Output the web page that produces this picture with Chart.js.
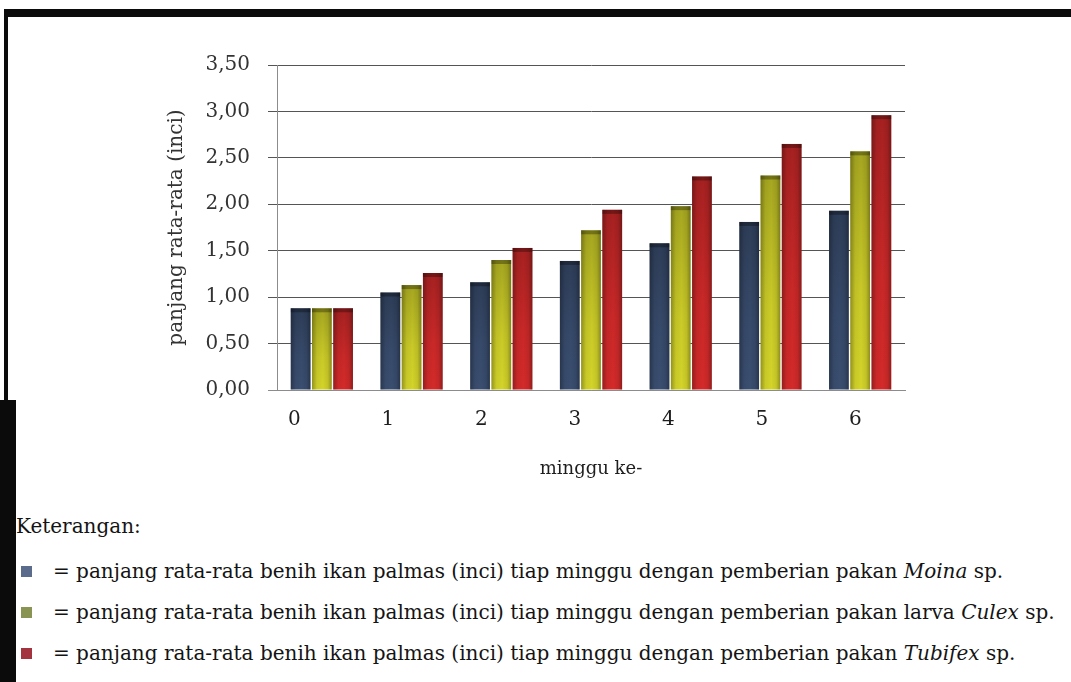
<!DOCTYPE html>
<html>
<head>
<meta charset="utf-8">
<script src="https://cdn.jsdelivr.net/npm/chart.js@4.4.1/dist/chart.umd.min.js"></script>
<style>
  html, body { margin: 0; padding: 0; background: #fff; width: 1071px; height: 682px; overflow: hidden; }
  #wrap { position: absolute; left: 0; top: 0; width: 1071px; height: 500px; }
  .frame { position: absolute; background: #0b0b0b; }
  #keterangan { position: absolute; left: 16px; top: 514px; font: 20px "DejaVu Serif", serif; color: #141414; white-space: nowrap; }
  .row { position: absolute; left: 21px; font: 20px "DejaVu Serif", serif; color: #141414; white-space: nowrap; }
  .row .sq { position: absolute; left: 0; top: 7px; width: 11px; height: 11px; }
  .row .txt { position: absolute; left: 32px; top: 0; }
</style>
</head>
<body>
<div id="wrap"><canvas id="chart" width="1071" height="500"></canvas></div>
<div class="frame" style="left:4px;top:9px;width:1067px;height:8px;"></div>
<div class="frame" style="left:4px;top:9px;width:4px;height:392px;"></div>
<div class="frame" style="left:0;top:400px;width:16px;height:282px;"></div>
<div id="keterangan">Keterangan:</div>
<div id="legend"></div>

<script>
// Weeks (x categories)
const weeks = ['0', '1', '2', '3', '4', '5', '6'];

// Mean length (inch) per week for each feed
const moina   = [0.88, 1.05, 1.16, 1.39, 1.58, 1.81, 1.93];
const culex   = [0.88, 1.13, 1.40, 1.72, 1.98, 2.31, 2.57];
const tubifex = [0.88, 1.26, 1.53, 1.94, 2.30, 2.65, 2.96];

// Feed names shown in the key (italic part + prefix)
const feedPrefix = ['', 'larva ', ''];
const feedNames  = ['Moina', 'Culex', 'Tubifex'];

// Colours
const barColors    = ['#3a4e70', '#d4d42a', '#d42a2a'];
const legendColors = ['#5b6b8b', '#8a9452', '#a3343f'];

const serif = '"DejaVu Serif", serif';

// Shade every bar: darker edges, darker top cap, fading top-to-bottom
const barShade = {
  id: 'barShade',
  afterDatasetDraw(chart, args) {
    const ctx = chart.ctx;
    const meta = args.meta;
    meta.data.forEach(bar => {
      const { x, y, base, width } = bar.getProps(['x', 'y', 'base', 'width'], true);
      const l = x - width / 2, h = base - y;
      ctx.save();
      let g = ctx.createLinearGradient(l, 0, l + width, 0);
      g.addColorStop(0, 'rgba(0,0,0,0.30)');
      g.addColorStop(0.25, 'rgba(0,0,0,0.05)');
      g.addColorStop(0.55, 'rgba(0,0,0,0)');
      g.addColorStop(0.8, 'rgba(0,0,0,0.08)');
      g.addColorStop(1, 'rgba(0,0,0,0.32)');
      ctx.fillStyle = g;
      ctx.fillRect(l, y, width, h);
      g = ctx.createLinearGradient(0, y, 0, base);
      g.addColorStop(0, 'rgba(0,0,0,0.22)');
      g.addColorStop(0.6, 'rgba(0,0,0,0.05)');
      g.addColorStop(1, 'rgba(0,0,0,0)');
      ctx.fillStyle = g;
      ctx.fillRect(l, y, width, h);
      ctx.fillStyle = 'rgba(0,0,0,0.30)';
      ctx.fillRect(l, y, width, 4);
      ctx.restore();
    });
  }
};

const series = [moina, culex, tubifex];

new Chart(document.getElementById('chart'), {
  type: 'bar',
  data: {
    labels: weeks,
    datasets: series.map((values, i) => ({
      label: feedPrefix[i] + feedNames[i] + ' sp.',
      data: values,
      backgroundColor: barColors[i],
      borderWidth: 0,
      categoryPercentage: 0.71,
      barPercentage: 0.93
    }))
  },
  options: {
    responsive: false,
    animation: false,
    layout: { padding: { left: 150, right: 166, top: 65, bottom: 20 } },
    plugins: { legend: { display: false }, tooltip: { enabled: false } },
    scales: {
      x: { type: 'category', display: false },
      weekAxis: {
        type: 'linear',
        position: 'bottom',
        offset: false,
        min: -0.187,
        max: 6.53,
        afterBuildTicks: s => { s.ticks = weeks.map((w, i) => ({ value: i })); },
        afterFit: s => { s.height = 90; },
        ticks: {
          callback: (v, i) => weeks[i],
          padding: 18,
          autoSkip: false,
          maxRotation: 0,
          color: '#1e1e1e',
          font: { family: serif, size: 20 }
        },
        grid: { display: false, drawTicks: false, offset: false },
        border: { display: true, color: '#8c8c8c', width: 1 },
        title: {
          display: true,
          text: 'minggu ke-',
          color: '#1e1e1e',
          font: { family: serif, size: 18 },
          padding: { top: 26, bottom: 0 }
        }
      },
      y: {
        min: 0,
        max: 3.5,
        afterFit: s => { s.width = 127; },
        ticks: {
          stepSize: 0.5,
          padding: 18,
          color: '#333',
          font: { family: serif, size: 20 },
          callback: v => v.toFixed(2).replace('.', ',')
        },
        grid: {
          color: c => (c.tick && c.tick.value === 0) ? '#8c8c8c' : '#555',
          tickLength: 9,
          lineWidth: 1
        },
        border: { color: '#8c8c8c', width: 1 },
        title: {
          display: true,
          text: 'panjang rata-rata (inci)',
          color: '#333',
          font: { family: serif, size: 20 },
          padding: { top: 15, bottom: 0 }
        }
      }
    }
  },
  plugins: [barShade]
});

// Key below the chart, one row per feed
const legend = document.getElementById('legend');
const rowTops = [559, 600, 641];
feedNames.forEach((name, i) => {
  const row = document.createElement('div');
  row.className = 'row';
  row.style.top = rowTops[i] + 'px';
  const sq = document.createElement('span');
  sq.className = 'sq';
  sq.style.background = legendColors[i];
  const txt = document.createElement('span');
  txt.className = 'txt';
  txt.innerHTML = '= panjang rata-rata benih ikan palmas (inci) tiap minggu  dengan pemberian pakan ' +
    feedPrefix[i] + '<i>' + name + '</i> sp.';
  row.appendChild(sq);
  row.appendChild(txt);
  legend.appendChild(row);
});
</script>
</body>
</html>
